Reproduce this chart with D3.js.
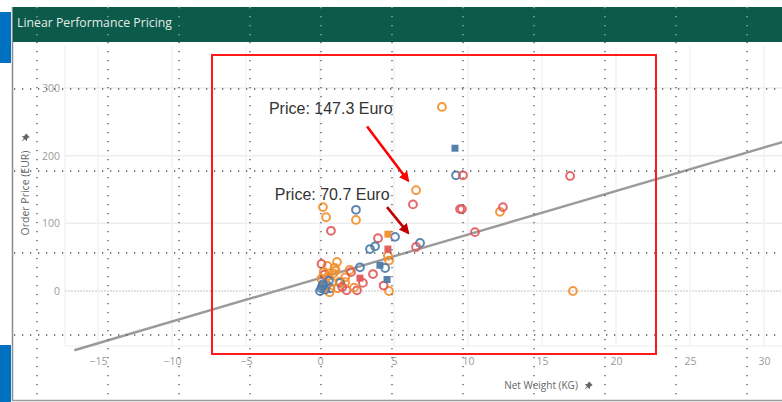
<!DOCTYPE html>
<html>
<head>
<meta charset="utf-8">
<script src="https://cdn.jsdelivr.net/npm/d3@7"></script>
<style>
  body { margin: 0; background: #fff; }
  svg { display: block; }
</style>
</head>
<body>
<div id="chart"></div>
<script>
// Data
var weight = [8.24, 9.12, 9.19, 9.66, 16.9, 6.49, 6.28, 9.46, 9.59, 12.16, 12.36, 10.47, 17.09, 6.76, 6.49,
              0.2, 0.41, 2.43, 2.43, 0.74, 4.59, 5.07, 3.92, 3.38, 3.72, 4.59, 4.59, 4.66, 2.7, 4.05,
              4.53, 4.66, 3.58, 2.7, 1.15, 1.0, 0.5, 0.1, 2.0, 1.7, 1.35, 0.1, 0.45, 0.7, 1.35,
              1.2, 1.8, 2.5, 0.65, 0.1, 0.3, 2.9, 0.0, 0.8, 1.7, 2.1, 4.3,
              0.25, 0.55, 0.9, 1.5, 0.2, 0.6, 1.05, 0.35, 0.15, 2.3, 4.4];
var price  = [272, 211, 171, 171, 170, 149, 128, 121, 121, 117, 124, 87, 0, 71, 65,
              124, 109, 120, 105, 89, 84, 80, 78, 62, 66, 62, 52, 45, 35, 38,
              17, 0, 25, 19, 43, 34, 37, 40, 31, 20, 14, 4, 9, 4, 12,
              4, 1, 1, -2, 18, 24, 12, 0, 13, 13, 28, 8,
              28, 22, 26, 6, 10, 15, 30, 2, 7, 5, 34];
var series = ["o", "b", "b", "r", "r", "o", "r", "r", "r", "o", "r", "r", "o", "b", "r",
              "o", "o", "b", "o", "r", "o", "b", "r", "b", "b", "r", "o", "o", "b", "b",
              "b", "o", "r", "r", "o", "o", "o", "r", "o", "o", "o", "b", "b", "b", "b",
              "o", "r", "r", "o", "o", "r", "r", "b", "o", "o", "r", "r",
              "o", "o", "o", "r", "b", "b", "o", "b", "b", "o", "b"];
var shape  = ["c", "s", "c", "c", "c", "c", "c", "c", "c", "c", "c", "c", "c", "c", "c",
              "c", "c", "c", "c", "c", "s", "c", "c", "c", "c", "s", "c", "c", "c", "s",
              "s", "c", "c", "s", "c", "c", "c", "c", "c", "c", "c", "c", "c", "c", "c",
              "c", "c", "c", "c", "c", "c", "c", "c", "c", "c", "c", "c",
              "c", "c", "c", "c", "c", "c", "c", "c", "c", "c", "c"];

var seriesKeys = ["b", "o", "r"];
var seriesColors = ["#4e79a7", "#f28e2b", "#e15759"];

var xTicks = [-15, -10, -5, 0, 5, 10, 15, 20, 25, 30];
var yTicks = [0, 100, 200, 300];

// trend line: price = intercept + slope * weight
var trendIntercept = 19.2, trendSlope = 6.43;
var trendRange = [-16.6, 31.6];

// annotations (text anchor point and arrow, in data units)
var noteText = ["Price: 147.3 Euro", "Price: 70.7 Euro"];
var noteX = [-3.45, -3.05];
var noteY = [261, 134];
var arrowFrom = [[3.18, 243], [4.53, 124]];
var arrowTo = [[5.95, 163], [5.95, 86]];
var arrowColor = ["#ff0000", "#c00000"];

var W = 782, H = 402;

var svg = d3.select("#chart").append("svg")
    .attr("width", W)
    .attr("height", H)
    .style("font-family", "'Open Sans', sans-serif");

var defs = svg.append("defs");
arrowColor.forEach(function(c, i) {
    defs.append("marker")
        .attr("id", "head" + i)
        .attr("viewBox", "0 0 10 10")
        .attr("refX", 8).attr("refY", 5)
        .attr("markerWidth", 4).attr("markerHeight", 4)
        .attr("orient", "auto")
        .append("path")
        .attr("d", "M0,0 L10,5 L0,10 Z")
        .attr("fill", c);
});

// Scales
var x = d3.scaleLinear().domain([-15, 30]).range([98, 764]);
var y = d3.scaleLinear().domain([0, 300]).range([291, 88]);
var color = d3.scaleOrdinal().domain(seriesKeys).range(seriesColors);

var plot = { left: 65, right: W, top: 46, bottom: 346 };

// slide side bars
svg.append("rect").attr("x", 0).attr("y", 12).attr("width", 11).attr("height", 51).attr("fill", "#0070c0");
svg.append("rect").attr("x", 0).attr("y", 345).attr("width", 11).attr("height", 57).attr("fill", "#0070c0");

// panel border
svg.append("line").attr("x1", 12.5).attr("x2", 12.5).attr("y1", 7).attr("y2", 401)
    .attr("stroke", "#8a8a8a").attr("stroke-width", 1.5);
svg.append("line").attr("x1", 12).attr("x2", W).attr("y1", 400.5).attr("y2", 400.5)
    .attr("stroke", "#9a9a9a").attr("stroke-width", 1.5);

// title bar
svg.append("rect").attr("x", 13).attr("y", 7).attr("width", W - 13).attr("height", 35).attr("fill", "#0b5a4a");
svg.append("text")
    .attr("x", 17).attr("y", 27)
    .attr("fill", "#e3ebe7")
    .style("font-size", "13.5px")
    .attr("textLength", 155).attr("lengthAdjust", "spacingAndGlyphs")
    .text("Linear Performance Pricing");

// light gridlines
var grid = svg.append("g");
grid.selectAll(".gy").data(yTicks.filter(function(d) { return d !== 0; })).enter().append("line")
    .attr("x1", plot.left).attr("x2", plot.right)
    .attr("y1", function(d) { return y(d); }).attr("y2", function(d) { return y(d); })
    .attr("stroke", "#eeeeee").attr("stroke-width", 1.5);
grid.append("line")
    .attr("x1", plot.left).attr("x2", plot.right)
    .attr("y1", y(0)).attr("y2", y(0))
    .attr("stroke", "#d8d8d8").attr("stroke-width", 1.5).attr("stroke-dasharray", "2,1");
grid.selectAll(".gx").data(xTicks).enter().append("line")
    .attr("x1", function(d) { return x(d); }).attr("x2", function(d) { return x(d); })
    .attr("y1", plot.top).attr("y2", plot.bottom)
    .attr("stroke", "#f2f2f2").attr("stroke-width", 1.5);
grid.append("line").attr("x1", plot.left).attr("x2", plot.left).attr("y1", plot.top).attr("y2", plot.bottom)
    .attr("stroke", "#ececec");
grid.append("line").attr("x1", plot.left).attr("x2", plot.right).attr("y1", plot.bottom).attr("y2", plot.bottom)
    .attr("stroke", "#ececec");

// axes
var yAxis = svg.append("g")
    .attr("transform", "translate(" + (plot.left - 5) + ",0)")
    .call(d3.axisLeft(y).tickValues(yTicks).tickSize(0).tickPadding(0));
var xAxis = svg.append("g")
    .attr("transform", "translate(0," + (plot.bottom + 4) + ")")
    .call(d3.axisBottom(x).tickValues(xTicks).tickSize(0).tickPadding(8));
[xAxis, yAxis].forEach(function(a) {
    a.select(".domain").remove();
    a.selectAll("text").attr("fill", "#9a9a9a").style("font-size", "10.5px").style("font-family", "'Open Sans', sans-serif");
});

// axis titles
svg.append("text")
    .attr("transform", "translate(29,193) rotate(-90)")
    .attr("text-anchor", "middle")
    .attr("fill", "#666")
    .style("font-size", "10.5px")
    .text("Order Price (EUR)");
svg.append("text")
    .attr("x", 541).attr("y", 389)
    .attr("text-anchor", "middle")
    .attr("fill", "#666")
    .style("font-size", "10px")
    .text("Net Weight (KG)");

function pin(px, py) {
    svg.append("path")
        .attr("transform", "translate(" + px + "," + py + ") rotate(45)")
        .attr("d", "M-2.5,-4 L2.5,-4 L2,-1 L3.5,1 L-3.5,1 L-2,-1 Z M-0.6,1 L0.6,1 L0,5 Z")
        .attr("fill", "#666");
}
pin(25, 138);
pin(588, 386);

// trend line
svg.append("line")
    .attr("x1", x(trendRange[0])).attr("y1", y(trendIntercept + trendSlope * trendRange[0]))
    .attr("x2", x(trendRange[1])).attr("y2", y(trendIntercept + trendSlope * trendRange[1]))
    .attr("stroke", "#9a9a9a").attr("stroke-width", 2.4);

// points
var pts = weight.map(function(w, i) {
    return { w: w, p: price[i], s: series[i], shape: shape[i] };
});
var marks = svg.append("g");
marks.selectAll("circle")
    .data(pts.filter(function(d) { return d.shape === "c"; }))
    .enter().append("circle")
    .attr("cx", function(d) { return x(d.w); })
    .attr("cy", function(d) { return y(d.p); })
    .attr("r", 3.9)
    .attr("fill", "none")
    .attr("stroke", function(d) { return color(d.s); })
    .attr("stroke-width", 2)
    .attr("opacity", 0.9);
marks.selectAll("rect")
    .data(pts.filter(function(d) { return d.shape === "s"; }))
    .enter().append("rect")
    .attr("x", function(d) { return x(d.w) - 3.5; })
    .attr("y", function(d) { return y(d.p) - 3.5; })
    .attr("width", 7).attr("height", 7)
    .attr("fill", function(d) { return color(d.s); })
    .attr("opacity", 0.95);

// slide overlay: dotted guide grid
var overlay = svg.append("g");
var vx = d3.range(37, W, 71);
var hy = [89, 171, 253, 335];
overlay.selectAll(".vd").data(vx).enter().append("line")
    .attr("x1", function(d) { return d; }).attr("x2", function(d) { return d; })
    .attr("y1", 42).attr("y2", H)
    .attr("stroke", "#555").attr("stroke-width", 1.3).attr("stroke-dasharray", "1.3,7.7");
overlay.selectAll(".vt").data(vx).enter().append("line")
    .attr("x1", function(d) { return d; }).attr("x2", function(d) { return d; })
    .attr("y1", 7).attr("y2", 42)
    .attr("stroke", "#9fb8b0").attr("stroke-width", 1.3).attr("stroke-dasharray", "1.3,7.7");
overlay.selectAll(".hd").data(hy).enter().append("line")
    .attr("x1", 14).attr("x2", W)
    .attr("y1", function(d) { return d; }).attr("y2", function(d) { return d; })
    .attr("stroke", "#555").attr("stroke-width", 1.3).attr("stroke-dasharray", "1.3,6.7");

// slide overlay: red highlight box
svg.append("rect")
    .attr("x", 212).attr("y", 55).attr("width", 444).attr("height", 299)
    .attr("fill", "none").attr("stroke", "#ff1a1a").attr("stroke-width", 2);

// annotations
noteText.forEach(function(t, i) {
    svg.append("text")
        .attr("x", x(noteX[i])).attr("y", y(noteY[i]))
        .attr("fill", "#333")
        .style("font-family", "'Liberation Sans', Arial, sans-serif")
        .style("font-size", "16px")
        .text(t);
    svg.append("line")
        .attr("x1", x(arrowFrom[i][0])).attr("y1", y(arrowFrom[i][1]))
        .attr("x2", x(arrowTo[i][0])).attr("y2", y(arrowTo[i][1]))
        .attr("stroke", arrowColor[i]).attr("stroke-width", 2.6)
        .attr("marker-end", "url(#head" + i + ")");
});
</script>
</body>
</html>
